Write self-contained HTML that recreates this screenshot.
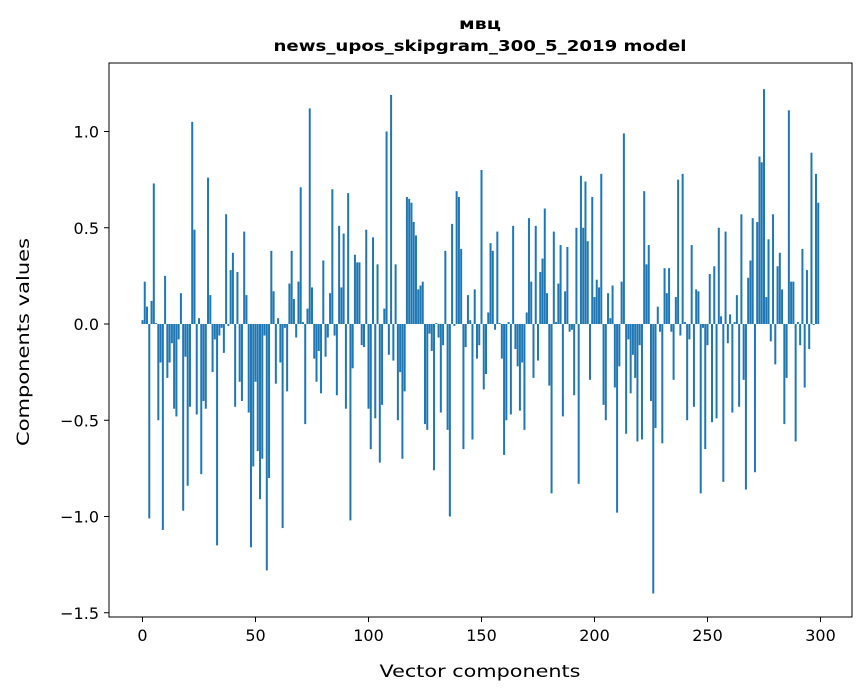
<!DOCTYPE html>
<html><head><meta charset="utf-8"><style>
html,body{margin:0;padding:0;background:#fff;}
svg{display:block;font-family:"DejaVu Sans","Liberation Sans",sans-serif;}
</style></head><body>
<svg id="chart" width="867" height="696" viewBox="0 0 867 696">
<rect x="0" y="0" width="867" height="696" fill="#fff"/>
<text x="480" y="29" text-anchor="middle" font-size="15" font-weight="bold" textLength="42" lengthAdjust="spacingAndGlyphs">мвц</text>
<text x="480" y="51" text-anchor="middle" font-size="15" font-weight="bold" textLength="413" lengthAdjust="spacingAndGlyphs">news_upos_skipgram_300_5_2019 model</text>
<g id="bars"></g>
<g id="axes"></g>
<rect x="109" y="63" width="743" height="554" fill="none" stroke="#000" stroke-width="1"/>
<text x="480" y="677" text-anchor="middle" font-size="17" textLength="201" lengthAdjust="spacingAndGlyphs">Vector components</text>
<text transform="translate(29,342) rotate(-90)" text-anchor="middle" font-size="17" textLength="208" lengthAdjust="spacingAndGlyphs">Components values</text>
</svg>
<script>
const values = [
0.02,0.22,0.09,-1.01,0.12,0.73,0.005,-0.5,-0.2,-1.07,
0.25,-0.28,-0.2,-0.1,-0.44,-0.48,-0.08,0.16,-0.97,-0.17,
-0.84,-0.43,1.05,0.49,-0.47,0.03,-0.78,-0.4,-0.44,0.76,
0.15,-0.25,-0.08,-1.15,-0.06,-0.02,-0.15,0.57,-0.01,0.28,
0.37,-0.43,0.27,-0.3,-0.4,0.48,0.15,-0.46,-1.16,-0.74,
-0.3,-0.66,-0.91,-0.7,-0.06,-1.28,-0.8,0.38,0.17,-0.31,
0.03,-0.2,-1.06,-0.02,-0.35,0.21,0.38,0.13,-0.07,0.22,
0.71,0.01,-0.52,0.08,1.12,0.19,-0.18,-0.3,-0.14,-0.36,
0.33,-0.17,-0.07,0.16,0.7,-0.06,-0.37,0.51,0.19,0.47,
-0.44,0.68,-1.02,-0.23,0.36,0.32,0.32,-0.11,-0.12,0.49,
-0.44,-0.65,0.45,-0.49,0.31,-0.72,-0.42,0.08,1.0,-0.16,
1.19,-0.19,0.31,-0.5,-0.25,-0.7,-0.35,0.66,0.65,0.63,
0.53,0.46,0.18,0.2,0.22,-0.52,-0.55,-0.05,-0.14,-0.76,
0.005,-0.07,-0.46,-0.11,0.38,-0.55,-1.0,0.52,-0.01,0.69,
0.66,0.39,-0.65,-0.12,0.15,0.02,-0.6,0.18,-0.18,-0.11,
0.8,-0.34,-0.26,0.06,0.42,0.38,-0.03,0.48,0.005,-0.18,
-0.68,-0.5,0.01,-0.47,0.51,-0.13,-0.22,-0.45,-0.2,-0.55,
0.06,0.55,0.22,-0.28,0.51,-0.19,0.27,0.34,0.6,0.16,
-0.32,-0.88,0.48,0.01,0.21,0.41,-0.48,0.17,0.4,-0.04,
-0.03,-0.37,0.5,-0.83,0.77,0.5,0.74,0.43,-0.29,0.66,
0.14,0.23,0.19,0.78,-0.42,-0.5,0.16,0.03,0.2,-0.33,
-0.98,-0.22,0.22,0.99,-0.57,-0.08,-0.36,-0.16,-0.28,-0.61,
-0.11,-0.6,0.69,0.31,0.41,-0.4,-1.4,-0.54,0.09,-0.04,
-0.62,0.29,0.16,0.29,-0.04,-0.29,0.14,0.75,-0.06,0.78,
0.01,-0.5,-0.08,0.41,-0.43,0.18,0.17,-0.88,-0.02,-0.65,
-0.11,0.26,-0.51,0.3,-0.49,0.5,0.04,-0.82,0.48,-0.1,
0.05,-0.46,0.01,0.15,-0.43,0.57,-0.29,-0.86,0.24,0.33,
0.55,-0.77,0.53,0.87,0.84,1.22,0.14,0.44,-0.09,0.57,
-0.21,0.3,0.37,0.18,-0.52,-0.28,1.11,0.22,0.22,-0.61,
0.01,-0.11,0.39,-0.33,0.28,-0.13,0.89,-0.005,0.78,0.63
];
const xTicks = [0,50,100,150,200,250,300];
const yTicks = [-1.5,-1.0,-0.5,0.0,0.5,1.0];
const yTickLabels = ["\u22121.5","\u22121.0","\u22120.5","0.0","0.5","1.0"];

const NS = "http://www.w3.org/2000/svg";
function xs(v){ return 142.5 + v*2.26; }
function ys(v){ return 324 - v*192.5; }
const barsG = document.getElementById('bars');
const axesG = document.getElementById('axes');
const bw = 2.0;
values.forEach((v,i)=>{
  const r = document.createElementNS(NS,'rect');
  const y0 = ys(0), y1 = ys(v);
  r.setAttribute('x', xs(i)-bw/2);
  r.setAttribute('y', Math.min(y0,y1));
  r.setAttribute('width', bw);
  r.setAttribute('height', Math.max(Math.abs(y1-y0),0.3));
  r.setAttribute('fill', '#1f77b4');
  
  
  barsG.appendChild(r);
});
xTicks.forEach(t=>{
  const l = document.createElementNS(NS,'line');
  l.setAttribute('x1', xs(t)); l.setAttribute('x2', xs(t));
  l.setAttribute('y1', 617); l.setAttribute('y2', 622);
  l.setAttribute('stroke', '#000');
  
  
  axesG.appendChild(l);
  const tx = document.createElementNS(NS,'text');
  tx.setAttribute('x', xs(t)); tx.setAttribute('y', 641);
  tx.setAttribute('text-anchor', 'middle'); tx.setAttribute('font-size', '16');
  tx.textContent = String(t);
  
  
  axesG.appendChild(tx);
});
yTicks.forEach((t,k)=>{
  const l = document.createElementNS(NS,'line');
  l.setAttribute('x1', 104); l.setAttribute('x2', 109);
  l.setAttribute('y1', ys(t)); l.setAttribute('y2', ys(t));
  l.setAttribute('stroke', '#000');
  
  
  axesG.appendChild(l);
  const tx = document.createElementNS(NS,'text');
  tx.setAttribute('x', 99); tx.setAttribute('y', ys(t)+6);
  tx.setAttribute('text-anchor', 'end'); tx.setAttribute('font-size', '16');
  tx.textContent = yTickLabels[k];
  
  
  axesG.appendChild(tx);
});
</script>
</body></html>
